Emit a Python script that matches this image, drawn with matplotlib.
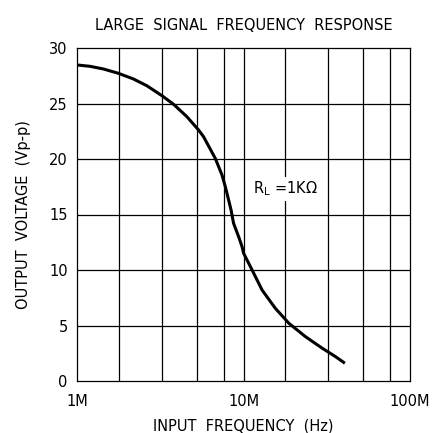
import matplotlib
matplotlib.use("Agg")
import matplotlib.pyplot as plt
import numpy as np

# Data (frequency in MHz, output voltage in Vp-p)
freq_mhz = [1.0, 1.193, 1.434, 1.766, 2.175, 2.618, 3.23, 3.79, 4.56, 5.36, 5.74,
            6.75, 7.41, 7.76, 8.12, 8.4, 8.7, 9.33, 9.78, 10.0, 11.24, 12.9,
            15.5, 18.7, 23.5, 29.7, 35.7, 40.6]
vout = [28.47, 28.35, 28.11, 27.72, 27.21, 26.6, 25.7, 24.93, 23.81, 22.61, 22.01,
        20.06, 18.56, 17.5, 16.31, 15.41, 14.2, 13.0, 12.1, 11.5, 10.0, 8.2,
        6.55, 5.2, 4.0, 2.95, 2.19, 1.6]

grid_mult = [1.78, 3.21, 5.25, 7.62]
decades = [1e6, 1e7]
x_ticks = [1e6, 1e7, 1e8]
x_tick_labels = ["1M", "10M", "100M"]
y_ticks = [0, 5, 10, 15, 20, 25, 30]

title = "LARGE  SIGNAL  FREQUENCY  RESPONSE"
xlabel = "INPUT  FREQUENCY  (Hz)"
ylabel = "OUTPUT  VOLTAGE  (Vp-p)"
annot = r"R$_\mathregular{L}$ =1K$\Omega$"

plt.rcParams['font.family'] = ['DejaVu Sans']
FS = 10.5
fig = plt.figure(figsize=(4.34, 4.33), dpi=100)
ax = fig.add_axes([77.3/434, 1-381/433, (410-77.3)/434, (381-48)/433])

x = np.array(freq_mhz) * 1e6
ax.plot(x, vout, color='black', lw=2.2, solid_capstyle='butt',
        solid_joinstyle='round', zorder=3)

ax.set_xscale('log')
ax.set_xlim(1e6, 1e8)
ax.set_ylim(0, 30)

for d in decades:
    for m in grid_mult:
        ax.axvline(d*m, color='black', lw=0.9, zorder=1)
ax.axvline(1e7, color='black', lw=0.9, zorder=1)
for yv in y_ticks[1:-1]:
    ax.axhline(yv, color='black', lw=0.9, zorder=1)

for s in ax.spines.values():
    s.set_linewidth(0.9)

ax.set_xticks(x_ticks)
ax.set_xticklabels(x_tick_labels)
ax.xaxis.set_minor_locator(matplotlib.ticker.NullLocator())
ax.set_yticks(y_ticks)
ax.tick_params(axis='x', length=0, labelsize=FS, pad=9)
ax.tick_params(axis='y', length=0, labelsize=FS, pad=7)

ax.text(1.78e7, 17.3, annot, fontsize=FS, ha='center', va='center',
        bbox=dict(facecolor='white', edgecolor='none', pad=2), zorder=4)

ax.set_title(title, fontsize=FS, pad=13)
ax.set_xlabel(xlabel, fontsize=FS, labelpad=7)
ax.set_ylabel(ylabel, fontsize=FS, labelpad=13)

fig.savefig("out.png", dpi=100)
